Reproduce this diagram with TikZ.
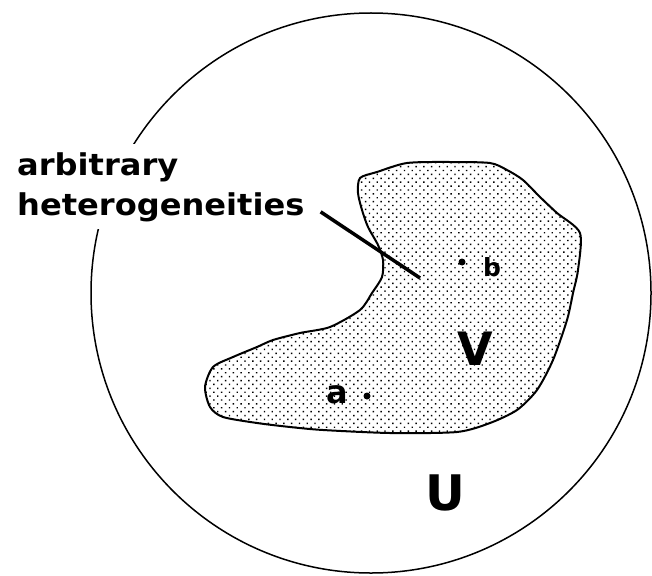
\documentclass[tikz,border=0pt]{standalone}
\usepackage{fontspec}
\setmainfont{DejaVu Sans}
\newfontfamily\widesans{DejaVu Sans}[FakeStretch=1.07]
\usetikzlibrary{patterns.meta,calc}

\begin{document}
\begin{tikzpicture}[x=1pt, y=-1pt,
  region/.style={line width=2pt, pattern={Dots[distance=5.5pt, radius=1pt, angle=45]}},
  leader/.style={line width=3.5pt},
  spot/.style={circle, fill, inner sep=0pt, minimum size=7pt},
  lbl/.style={font=\widesans\bfseries\fontsize{30}{36}\selectfont, fill=white,
    inner xsep=3pt, inner ysep=8pt, anchor=base west},
  setname/.style={font=\bfseries\fontsize{#1}{#1}\selectfont, inner sep=0pt}]
  \useasboundingbox (0,0) rectangle (652,575);

  % outer set U
  \node[draw, circle, line width=1.5pt, minimum size=560pt, inner sep=0pt] (outer) at (371,293) {};

  % inner set V
  \draw[region] plot[smooth cycle, tension=0.45] coordinates {
    (360,178) (377,172) (407,163) (450,162) (490,163) (507,170) (523,180)
    (540,197) (557,213) (580,233) (578,270) (573,293) (567,320) (553,360)
    (537,390) (517,410) (490,423) (457,432) (390,433) (323,430) (290,427)
    (257,423) (223,417) (210,407) (205,387) (213,367) (233,357) (257,347)
    (273,340) (300,333) (330,327) (360,310) (372,293) (382,277) (383,260)
    (378,245) (368,227) (362,210) (358,193)};

  % label of the heterogeneities
  \node[lbl] (lblA) at (14,175) {arbitrary};
  \node[lbl] (lblB) at (14,215) {heterogeneities};
  \coordinate (tip) at (420,278);
  \draw[leader] (lblB.east) ++(13,5) -- (tip);

  % points a and b
  \node[spot] (pb) at (462,262) {};
  \node[setname=25] (b) at (492,267) {b};
  \node[spot] (pa) at (367,396) {};
  \node[setname=32] (a) at (337,395) {a};

  % set names
  \node[setname=46] (V) at (475,349) {V};
  \node[setname=49] (U) at (445,493) {U};
\end{tikzpicture}
\end{document}
